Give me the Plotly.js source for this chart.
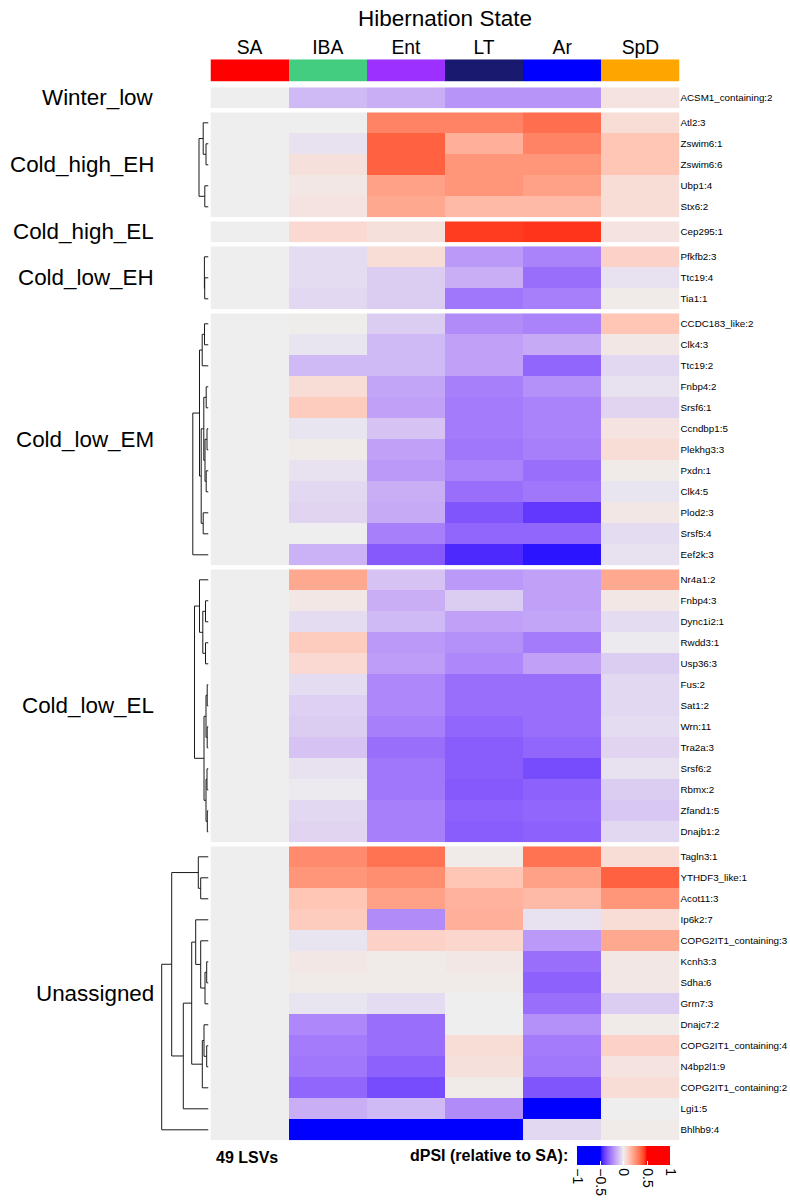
<!DOCTYPE html>
<html>
<head>
<meta charset="utf-8">
<script src="https://cdn.plot.ly/plotly-3.0.1.min.js"></script>
<style>
  html, body { margin: 0; padding: 0; background: #ffffff; }
  #chart { width: 790px; height: 1202px; }
</style>
</head>
<body>
<div id="chart"></div>
<script>
// ---- Column annotation (hibernation states) ----
const states = ['SA', 'IBA', 'Ent', 'LT', 'Ar', 'SpD'];
const stateColors = ['#FF0000', '#43CD80', '#9B30FF', '#191970', '#0000FF', '#FFA500'];

// ---- Row slices: labels, dPSI values (SA, IBA, Ent, LT, Ar, SpD), dendrogram merges/heights ----
const groupNames = ['Winter_low', 'Cold_high_EH', 'Cold_high_EL', 'Cold_low_EH', 'Cold_low_EM', 'Cold_low_EL', 'Unassigned'];

const winterLowLabels = ['ACSM1_containing:2'];
const winterLowValues = [
  [0, -0.12, -0.15, -0.21, -0.21, 0.03]
];

const coldHighEhLabels = ['Atl2:3', 'Zswim6:1', 'Zswim6:6', 'Ubp1:4', 'Stx6:2'];
const coldHighEhValues = [
  [0, 0.00, 0.30, 0.30, 0.35, 0.05],
  [0, -0.03, 0.38, 0.18, 0.30, 0.12],
  [0, 0.04, 0.38, 0.25, 0.25, 0.12],
  [0, 0.02, 0.22, 0.25, 0.22, 0.05],
  [0, 0.03, 0.20, 0.15, 0.15, 0.05]
];
const coldHighEhMerge = [[-2, -3], [-1, 1], [-4, -5], [2, 3]];
const coldHighEhHeight = [2.5, 5.3, 3.7, 9.5];

const coldHighElLabels = ['Cep295:1'];
const coldHighElValues = [
  [0, 0.06, 0.04, 0.45, 0.46, 0.03]
];

const coldLowEhLabels = ['Pfkfb2:3', 'Ttc19:4', 'Tia1:1'];
const coldLowEhValues = [
  [0, -0.04, 0.05, -0.20, -0.25, 0.08],
  [0, -0.04, -0.08, -0.15, -0.30, -0.03],
  [0, -0.05, -0.08, -0.28, -0.26, 0.01]
];
const coldLowEhMerge = [[-2, -3], [-1, 1]];
const coldLowEhHeight = [3.8, 4.1];

const coldLowEmLabels = ['CCDC183_like:2', 'Clk4:3', 'Ttc19:2', 'Fnbp4:2', 'Srsf6:1', 'Ccndbp1:5',
  'Plekhg3:3', 'Pxdn:1', 'Clk4:5', 'Plod2:3', 'Srsf5:4', 'Eef2k:3'];
const coldLowEmValues = [
  [0, 0.005, -0.08, -0.23, -0.25, 0.12],
  [0, -0.02, -0.12, -0.18, -0.16, 0.02],
  [0, -0.12, -0.12, -0.18, -0.32, -0.05],
  [0, 0.05, -0.17, -0.26, -0.22, -0.03],
  [0, 0.10, -0.18, -0.27, -0.25, -0.06],
  [0, -0.02, -0.10, -0.27, -0.25, 0.03],
  [0, 0.01, -0.18, -0.28, -0.26, 0.05],
  [0, -0.03, -0.20, -0.25, -0.30, 0.01],
  [0, -0.05, -0.15, -0.30, -0.28, -0.02],
  [0, -0.06, -0.16, -0.36, -0.42, 0.02],
  [0, 0.00, -0.26, -0.32, -0.32, -0.04],
  [0, -0.14, -0.35, -0.45, -0.48, -0.03]
];
const coldLowEmMerge = [[-1, -2], [1, -3], [-4, -5], [-6, -7], [-8, -9], [4, 5], [3, 6],
  [-10, -11], [7, 8], [2, 9], [10, -12]];
const coldLowEmHeight = [4.0, 6.3, 2.3, 1.5, 2.3, 3.5, 4.7, 5.3, 7.3, 9.0, 15.7];

const coldLowElLabels = ['Nr4a1:2', 'Fnbp4:3', 'Dync1i2:1', 'Rwdd3:1', 'Usp36:3', 'Fus:2', 'Sat1:2',
  'Wrn:11', 'Tra2a:3', 'Srsf6:2', 'Rbmx:2', 'Zfand1:5', 'Dnajb1:2'];
const coldLowElValues = [
  [0, 0.20, -0.10, -0.20, -0.18, 0.20],
  [0, 0.02, -0.15, -0.08, -0.18, 0.02],
  [0, -0.04, -0.12, -0.18, -0.17, -0.04],
  [0, 0.10, -0.20, -0.22, -0.27, -0.01],
  [0, 0.06, -0.19, -0.24, -0.18, -0.08],
  [0, -0.04, -0.24, -0.30, -0.30, -0.05],
  [0, -0.07, -0.24, -0.30, -0.30, -0.05],
  [0, -0.08, -0.26, -0.32, -0.30, -0.04],
  [0, -0.10, -0.30, -0.34, -0.32, -0.06],
  [0, -0.03, -0.28, -0.34, -0.38, -0.03],
  [0, -0.01, -0.28, -0.35, -0.33, -0.08],
  [0, -0.05, -0.26, -0.33, -0.32, -0.09],
  [0, -0.06, -0.26, -0.34, -0.33, -0.05]
];
const coldLowElMerge = [[-2, -3], [-4, -5], [1, 2], [-1, 3], [-6, -7], [-8, -9], [5, 6],
  [-10, -11], [-12, -13], [8, 9], [7, 10], [4, 11]];
const coldLowElHeight = [3.0, 3.0, 5.7, 9.0, 1.3, 1.3, 2.5, 1.5, 1.2, 2.5, 4.5, 14.0];

const unassignedLabels = ['Tagln3:1', 'YTHDF3_like:1', 'Acot11:3', 'Ip6k2:7', 'COPG2IT1_containing:3',
  'Kcnh3:3', 'Sdha:6', 'Grm7:3', 'Dnajc7:2', 'COPG2IT1_containing:4', 'N4bp2l1:9',
  'COPG2IT1_containing:2', 'Lgi1:5', 'Bhlhb9:4'];
const unassignedValues = [
  [0, 0.28, 0.34, 0.01, 0.34, 0.05],
  [0, 0.25, 0.27, 0.12, 0.22, 0.38],
  [0, 0.12, 0.22, 0.17, 0.15, 0.25],
  [0, 0.10, -0.23, 0.18, -0.03, 0.05],
  [0, -0.02, 0.08, 0.07, -0.20, 0.20],
  [0, 0.02, 0.01, 0.02, -0.30, 0.02],
  [0, 0.01, 0.01, 0.01, -0.33, 0.02],
  [0, -0.02, -0.04, 0.00, -0.30, -0.08],
  [0, -0.24, -0.30, 0.00, -0.22, 0.01],
  [0, -0.27, -0.30, 0.05, -0.27, 0.08],
  [0, -0.28, -0.33, 0.04, -0.28, 0.03],
  [0, -0.32, -0.38, 0.01, -0.36, 0.05],
  [0, -0.15, -0.12, -0.23, -0.50, 0.00],
  [0, -0.60, -0.60, -0.60, -0.05, 0.01]
];
const unassignedMerge = [[-2, -3], [-1, 1], [-6, -7], [3, -8], [-5, 4], [-4, 5], [-10, -11],
  [-9, 7], [8, -12], [6, 9], [10, -13], [2, 11], [12, -14]];
const unassignedHeight = [7.8, 10.2, 1.8, 3.5, 7.8, 12.8, 1.8, 4.5, 6.2, 16.8, 25.2, 36.8, 46.8];

const slices = [
  { labels: winterLowLabels, values: winterLowValues, merge: null, height: null },
  { labels: coldHighEhLabels, values: coldHighEhValues, merge: coldHighEhMerge, height: coldHighEhHeight },
  { labels: coldHighElLabels, values: coldHighElValues, merge: null, height: null },
  { labels: coldLowEhLabels, values: coldLowEhValues, merge: coldLowEhMerge, height: coldLowEhHeight },
  { labels: coldLowEmLabels, values: coldLowEmValues, merge: coldLowEmMerge, height: coldLowEmHeight },
  { labels: coldLowElLabels, values: coldLowElValues, merge: coldLowElMerge, height: coldLowElHeight },
  { labels: unassignedLabels, values: unassignedValues, merge: unassignedMerge, height: unassignedHeight }
];

// ---- Colour mapping: blue / #EEEEEE / red, interpolated in CIELAB ----
function hexToRgb(h) { return [1, 3, 5].map(i => parseInt(h.substr(i, 2), 16)); }
function rgbToLab(rgb) {
  const lin = rgb.map(c => { c /= 255; return c <= 0.04045 ? c / 12.92 : Math.pow((c + 0.055) / 1.055, 2.4); });
  const X = (0.4124 * lin[0] + 0.3576 * lin[1] + 0.1805 * lin[2]) / 0.95047;
  const Y = (0.2126 * lin[0] + 0.7152 * lin[1] + 0.0722 * lin[2]);
  const Z = (0.0193 * lin[0] + 0.1192 * lin[1] + 0.9505 * lin[2]) / 1.08883;
  const f = t => t > 0.008856 ? Math.cbrt(t) : 7.787 * t + 16 / 116;
  const fx = f(X), fy = f(Y), fz = f(Z);
  return [116 * fy - 16, 500 * (fx - fy), 200 * (fy - fz)];
}
function labToRgb(lab) {
  const fy = (lab[0] + 16) / 116, fx = fy + lab[1] / 500, fz = fy - lab[2] / 200;
  const inv = t => t * t * t > 0.008856 ? t * t * t : (t - 16 / 116) / 7.787;
  const X = inv(fx) * 0.95047, Y = inv(fy), Z = inv(fz) * 1.08883;
  const lin = [
    3.2406 * X - 1.5372 * Y - 0.4986 * Z,
    -0.9689 * X + 1.8758 * Y + 0.0415 * Z,
    0.0557 * X - 0.2040 * Y + 1.0570 * Z
  ];
  return lin.map(c => {
    c = Math.max(0, Math.min(1, c));
    c = c <= 0.0031308 ? 12.92 * c : 1.055 * Math.pow(c, 1 / 2.4) - 0.055;
    return Math.round(c * 255);
  });
}
const breakVals = [-1, -0.5, 0, 0.5, 1];
const breakCols = ['#0000FF', '#0000FF', '#EEEEEE', '#FF0000', '#FF0000'];
function buildColorscale() {
  const scale = [];
  const labs = breakCols.map(c => rgbToLab(hexToRgb(c)));
  for (let s = 0; s < breakVals.length - 1; s++) {
    const steps = 20;
    for (let k = 0; k <= steps; k++) {
      if (s > 0 && k === 0) continue;
      const t = k / steps;
      const lab = labs[s].map((v, i) => v + (labs[s + 1][i] - v) * t);
      const rgb = labToRgb(lab);
      const val = breakVals[s] + (breakVals[s + 1] - breakVals[s]) * t;
      scale.push([(val + 1) / 2, 'rgb(' + rgb.join(',') + ')']);
    }
  }
  return scale;
}

// ---- Geometry in pixels (page is 790 x 1202) ----
const W = 790, H = 1202;
const hmLeft = 210.5, hmRight = 679.5;
const hmTop = 87.3, rowH = 21.0, sliceGap = 4;
const dendLeft = 150, dendRight = 208.5;
const px = x => x / W;
const py = y => 1 - y / H;

const font = 'Liberation Sans, Arial, Helvetica, sans-serif';
const data = [];
const layout = {
  width: W, height: H, autosize: false,
  margin: { l: 0, r: 0, t: 0, b: 0, pad: 0 },
  paper_bgcolor: '#ffffff', plot_bgcolor: 'rgba(0,0,0,0)',
  font: { family: font, color: '#000000' },
  showlegend: false,
  title: {
    text: 'Hibernation State', font: { size: 22.5, family: font, color: '#000' },
    x: px((hmLeft + hmRight) / 2), xanchor: 'center', xref: 'paper',
    y: py(18), yanchor: 'middle', yref: 'paper'
  },
  coloraxis: {
    cmin: -1, cmax: 1, colorscale: buildColorscale(),
    colorbar: {
      orientation: 'h', x: px(577.3), xanchor: 'left', y: py(1146), yanchor: 'top',
      len: 93.4, lenmode: 'pixels', thickness: 19, thicknessmode: 'pixels',
      outlinewidth: 0, xpad: 0, ypad: 0,
      tickvals: [-1, -0.5, 0, 0.5, 1], tickangle: 90,
      ticks: 'inside', ticklen: 4, tickcolor: '#ffffff', tickwidth: 1,
      tickfont: { size: 14, family: font, color: '#000' }
    }
  },
  xaxis: {
    domain: [px(hmLeft), px(hmRight)], anchor: 'y7', showticklabels: false,
    showgrid: false, zeroline: false, showline: false, ticks: '', fixedrange: true
  },
  xaxis2: {
    domain: [px(hmLeft), px(hmRight)], anchor: 'y8', side: 'top',
    showgrid: false, zeroline: false, showline: false, ticks: '',
    tickfont: { size: 19.3, family: font, color: '#000' }, fixedrange: true
  },
  xaxis3: {
    domain: [px(dendLeft), px(dendRight)], anchor: 'y7', range: [dendRight - dendLeft, 0],
    visible: false, fixedrange: true
  },
  yaxis8: {
    domain: [py(81.7), py(59.3)], anchor: 'x2', showticklabels: false,
    showgrid: false, zeroline: false, ticks: '', fixedrange: true
  },
  annotations: []
};

// Annotation bar for the hibernation states
const barScale = [];
stateColors.forEach((c, i) => {
  const lo = i === 0 ? 0 : (i - 0.5) / (stateColors.length - 1);
  const hi = i === stateColors.length - 1 ? 1 : (i + 0.5) / (stateColors.length - 1);
  barScale.push([lo, c], [hi, c]);
});
data.push({
  type: 'heatmap', x: states, y: [0], z: [states.map((_, i) => i)],
  xaxis: 'x2', yaxis: 'y8', colorscale: barScale, zmin: 0, zmax: states.length - 1,
  showscale: false, hoverinfo: 'x'
});

// Dendrogram line coordinates from an hclust-style merge table
function dendrogramLines(merge, height) {
  const nodeY = [], nodeH = [];
  const xs = [], ys = [];
  const pos = id => id < 0 ? [0, -id - 1] : [nodeH[id - 1], nodeY[id - 1]];
  merge.forEach((m, k) => {
    const a = pos(m[0]), b = pos(m[1]), h = height[k];
    xs.push(a[0], h, h, b[0], null);
    ys.push(a[1], a[1], b[1], b[1], null);
    nodeH.push(h);
    nodeY.push((a[1] + b[1]) / 2);
  });
  return { xs, ys };
}

// Row slices
let cursor = hmTop;
slices.forEach((s, i) => {
  const n = s.labels.length;
  const top = cursor, bottom = cursor + n * rowH;
  cursor = bottom + sliceGap;
  const axName = i === 0 ? 'yaxis' : 'yaxis' + (i + 1);
  const axId = i === 0 ? 'y' : 'y' + (i + 1);
  const idx = s.labels.map((_, k) => k);
  layout[axName] = {
    domain: [py(bottom), py(top)], anchor: 'x', side: 'right',
    range: [n - 0.5, -0.5], tickmode: 'array', tickvals: idx, ticktext: s.labels,
    tickfont: { size: 9.8, family: font, color: '#000' },
    showgrid: false, zeroline: false, showline: false, ticks: '', fixedrange: true
  };
  data.push({
    type: 'heatmap', x: states, y: idx, z: s.values, coloraxis: 'coloraxis',
    xaxis: 'x', yaxis: axId,
    text: s.labels.map(l => states.map(() => l)),
    hovertemplate: '%{text}<br>%{x}: %{z:.2f}<extra></extra>'
  });
  if (s.merge) {
    const d = dendrogramLines(s.merge, s.height);
    data.push({
      type: 'scatter', mode: 'lines', x: d.xs, y: d.ys, xaxis: 'x3', yaxis: axId,
      line: { color: '#1a1a1a', width: 1 }, hoverinfo: 'skip', connectgaps: false
    });
  }
  layout.annotations.push({
    text: groupNames[i], xref: 'paper', x: px(156), xanchor: 'right',
    yref: axId + ' domain', y: 0.5, yanchor: 'middle', showarrow: false,
    font: { size: 22.4, family: font, color: '#000' }
  });
});

// Bottom texts
layout.annotations.push({
  text: '<b>49 LSVs</b>', xref: 'paper', x: px(214), xanchor: 'left',
  yref: 'paper', y: py(1157.7), yanchor: 'middle', showarrow: false,
  font: { size: 16, family: font, color: '#000' }
});
layout.annotations.push({
  text: '<b>dPSI (relative to SA):</b>', xref: 'paper', x: px(569.5), xanchor: 'right',
  yref: 'paper', y: py(1155.5), yanchor: 'middle', showarrow: false,
  font: { size: 16, family: font, color: '#000' }
});

Plotly.newPlot('chart', data, layout, { displayModeBar: false });
</script>
</body>
</html>
